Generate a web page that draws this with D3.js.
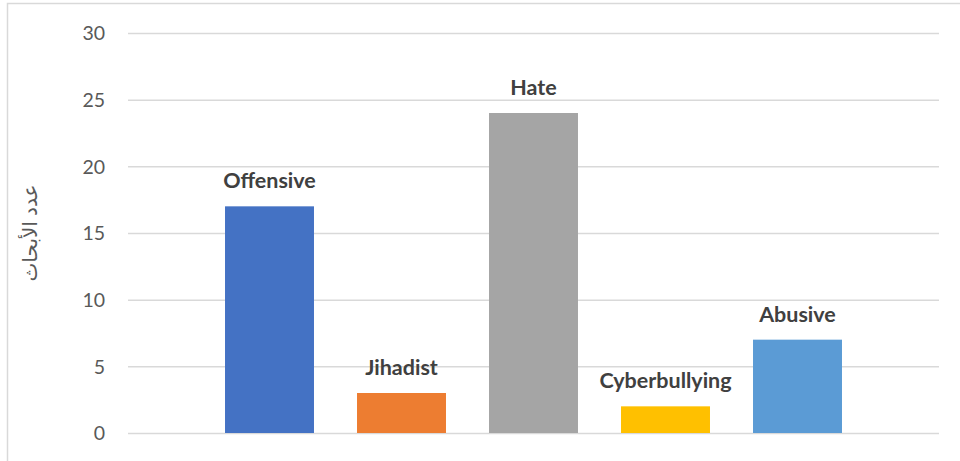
<!DOCTYPE html>
<html>
<head>
<meta charset="utf-8">
<script src="https://cdn.jsdelivr.net/npm/d3@7"></script>
<style>
  html, body { margin: 0; padding: 0; background: #fff; }
  svg { display: block; }
</style>
</head>
<body>
<svg id="chart" width="960" height="461"></svg>
<script>
// Number of research papers per category
const categories = ["Offensive", "Jihadist", "Hate", "Cyberbullying", "Abusive"];
const counts = [17, 3, 24, 2, 7];
const barColors = ["#4472C4", "#ED7D31", "#A5A5A5", "#FFC000", "#5B9BD5"];
const yTicks = [0, 5, 10, 15, 20, 25, 30];
const yTitle = "عدد الأبحاث";

const svg = d3.select("#chart");
const W = 960, H = 461;

// Chart frame (cut at the right and bottom edges)
svg.append("rect")
  .attr("x", 7.5).attr("y", 3.5)
  .attr("width", W + 10).attr("height", H + 10)
  .attr("fill", "#fff")
  .attr("stroke", "#d9d9d9").attr("stroke-width", 1.5);

const plot = { left: 128, right: 939, top: 33, bottom: 433 };

const y = d3.scaleLinear().domain([0, 30]).range([plot.bottom, plot.top]);
const x = d3.scaleBand()
  .domain(categories)
  .range([203.5, 863.5])
  .paddingInner(0.326)
  .paddingOuter(0.163);

// Horizontal gridlines and tick labels
const yAxis = d3.axisLeft(y)
  .tickValues(yTicks)
  .tickSize(-(plot.right - plot.left))
  .tickPadding(23);

const gy = svg.append("g")
  .attr("transform", `translate(${plot.left},0)`)
  .call(yAxis);
gy.select(".domain").remove();
gy.selectAll(".tick line")
  .attr("stroke", "#d9d9d9").attr("stroke-width", 1.5);
gy.selectAll(".tick text")
  .attr("fill", "#595959")
  .attr("font-family", "Lato, 'Open Sans', sans-serif")
  .attr("font-size", 19.5)
  .attr("dy", "0.35em");

// Bars
svg.append("g").selectAll("rect")
  .data(categories)
  .join("rect")
  .attr("x", d => x(d))
  .attr("width", x.bandwidth())
  .attr("y", (d, i) => y(counts[i]))
  .attr("height", (d, i) => y(0) - y(counts[i]))
  .attr("fill", (d, i) => barColors[i]);

// Category labels above the bars
svg.append("g").selectAll("text")
  .data(categories)
  .join("text")
  .attr("x", d => x(d) + x.bandwidth() / 2)
  .attr("y", (d, i) => y(counts[i]) - 18)
  .attr("text-anchor", "middle")
  .attr("fill", "#404040")
  .attr("font-family", "Lato, 'Open Sans', sans-serif")
  .attr("font-weight", "bold")
  .attr("font-size", 21.5)
  .text(d => d);

// Y-axis title
svg.append("text")
  .attr("transform", `translate(37,${(plot.top + plot.bottom) / 2}) rotate(-90)`)
  .attr("text-anchor", "middle")
  .attr("fill", "#595959")
  .attr("font-family", "'Noto Sans', 'DejaVu Sans', sans-serif")
  .attr("font-size", 20)
  .attr("direction", "rtl")
  .text(yTitle);
</script>
</body>
</html>
